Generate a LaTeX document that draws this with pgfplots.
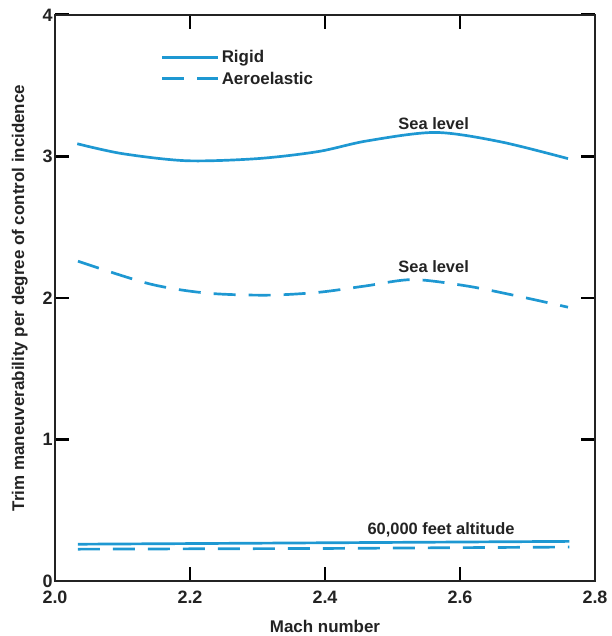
\documentclass[border=0pt]{standalone}
\usepackage{pgfplots}
\pgfplotsset{compat=1.18}
\usepackage{fontspec}
\setmainfont{Liberation Sans}
\definecolor{cblue}{RGB}{30,152,210}
\definecolor{ink}{RGB}{35,35,35}
\begin{document}
\begin{tikzpicture}
\begin{axis}[
  scale only axis,
  width=540bp, height=566bp,
  xmin=2.0, xmax=2.8, ymin=0, ymax=4,
  xtick={2.0,2.2,2.4,2.6,2.8},
  ytick={0,1,2,3,4},
  xticklabels={2.0,2.2,2.4,2.6,2.8},
  yticklabels={0,1,2,3,4},
  tick align=inside,
  major tick length=14bp,
  axis line style={line width=1.3pt, draw=ink},
  tick style={line width=3pt, black},
  tick label style={font=\fontsize{18}{21}\selectfont\bfseries, text=ink},
  xticklabel style={yshift=-6bp},
  yticklabel style={xshift=1bp},
  xlabel={Mach number},
  ylabel={Trim maneuverability per degree of control incidence},
  label style={font=\fontsize{17}{20}\selectfont\bfseries, text=ink},
  xlabel style={yshift=-10bp},
  ylabel style={yshift=8bp},
  clip=false,
  legend style={at={(rel axis cs:0.19,0.945)}, anchor=north west, draw=none, fill=none,
    font=\fontsize{17}{20}\selectfont\bfseries, text=ink, row sep=4bp},
  legend cell align=left,
  legend image code/.code={\draw[#1, line width=3pt] (0bp,0bp) -- (56bp,0bp);},
]
\addplot[cblue, line width=2.7pt, smooth] coordinates {
 (2.033,3.09) (2.10,3.02) (2.195,2.97) (2.30,2.985) (2.39,3.035) (2.462,3.11) (2.563,3.17) (2.659,3.105) (2.76,2.985)};
\addlegendentry{Rigid}
\addplot[cblue, line width=2.7pt, smooth, dash pattern=on 22bp off 13bp] coordinates {
 (2.034,2.26) (2.14,2.10) (2.224,2.035) (2.313,2.02) (2.39,2.04) (2.46,2.085) (2.53,2.13) (2.61,2.085) (2.684,2.015) (2.76,1.935)};
\addlegendentry{Aeroelastic}
\addplot[cblue, line width=2.7pt, forget plot] coordinates {
 (2.034,0.26) (2.40,0.27) (2.762,0.28)};
\addplot[cblue, line width=2.7pt, forget plot, dash pattern=on 22bp off 13bp] coordinates {
 (2.034,0.225) (2.40,0.23) (2.762,0.24)};
\node[font=\fontsize{16.5}{19}\selectfont\bfseries, text=ink] at (axis cs:2.561,3.235) {Sea level};
\node[font=\fontsize{16.5}{19}\selectfont\bfseries, text=ink] at (axis cs:2.561,2.22) {Sea level};
\node[font=\fontsize{16.5}{19}\selectfont\bfseries, text=ink] at (axis cs:2.572,0.36) {60,000 feet altitude};
\end{axis}
\useasboundingbox ([xshift=-55bp,yshift=-55bp]current axis.south west) rectangle ([xshift=17bp,yshift=15bp]current axis.north east);
\end{tikzpicture}
\end{document}
